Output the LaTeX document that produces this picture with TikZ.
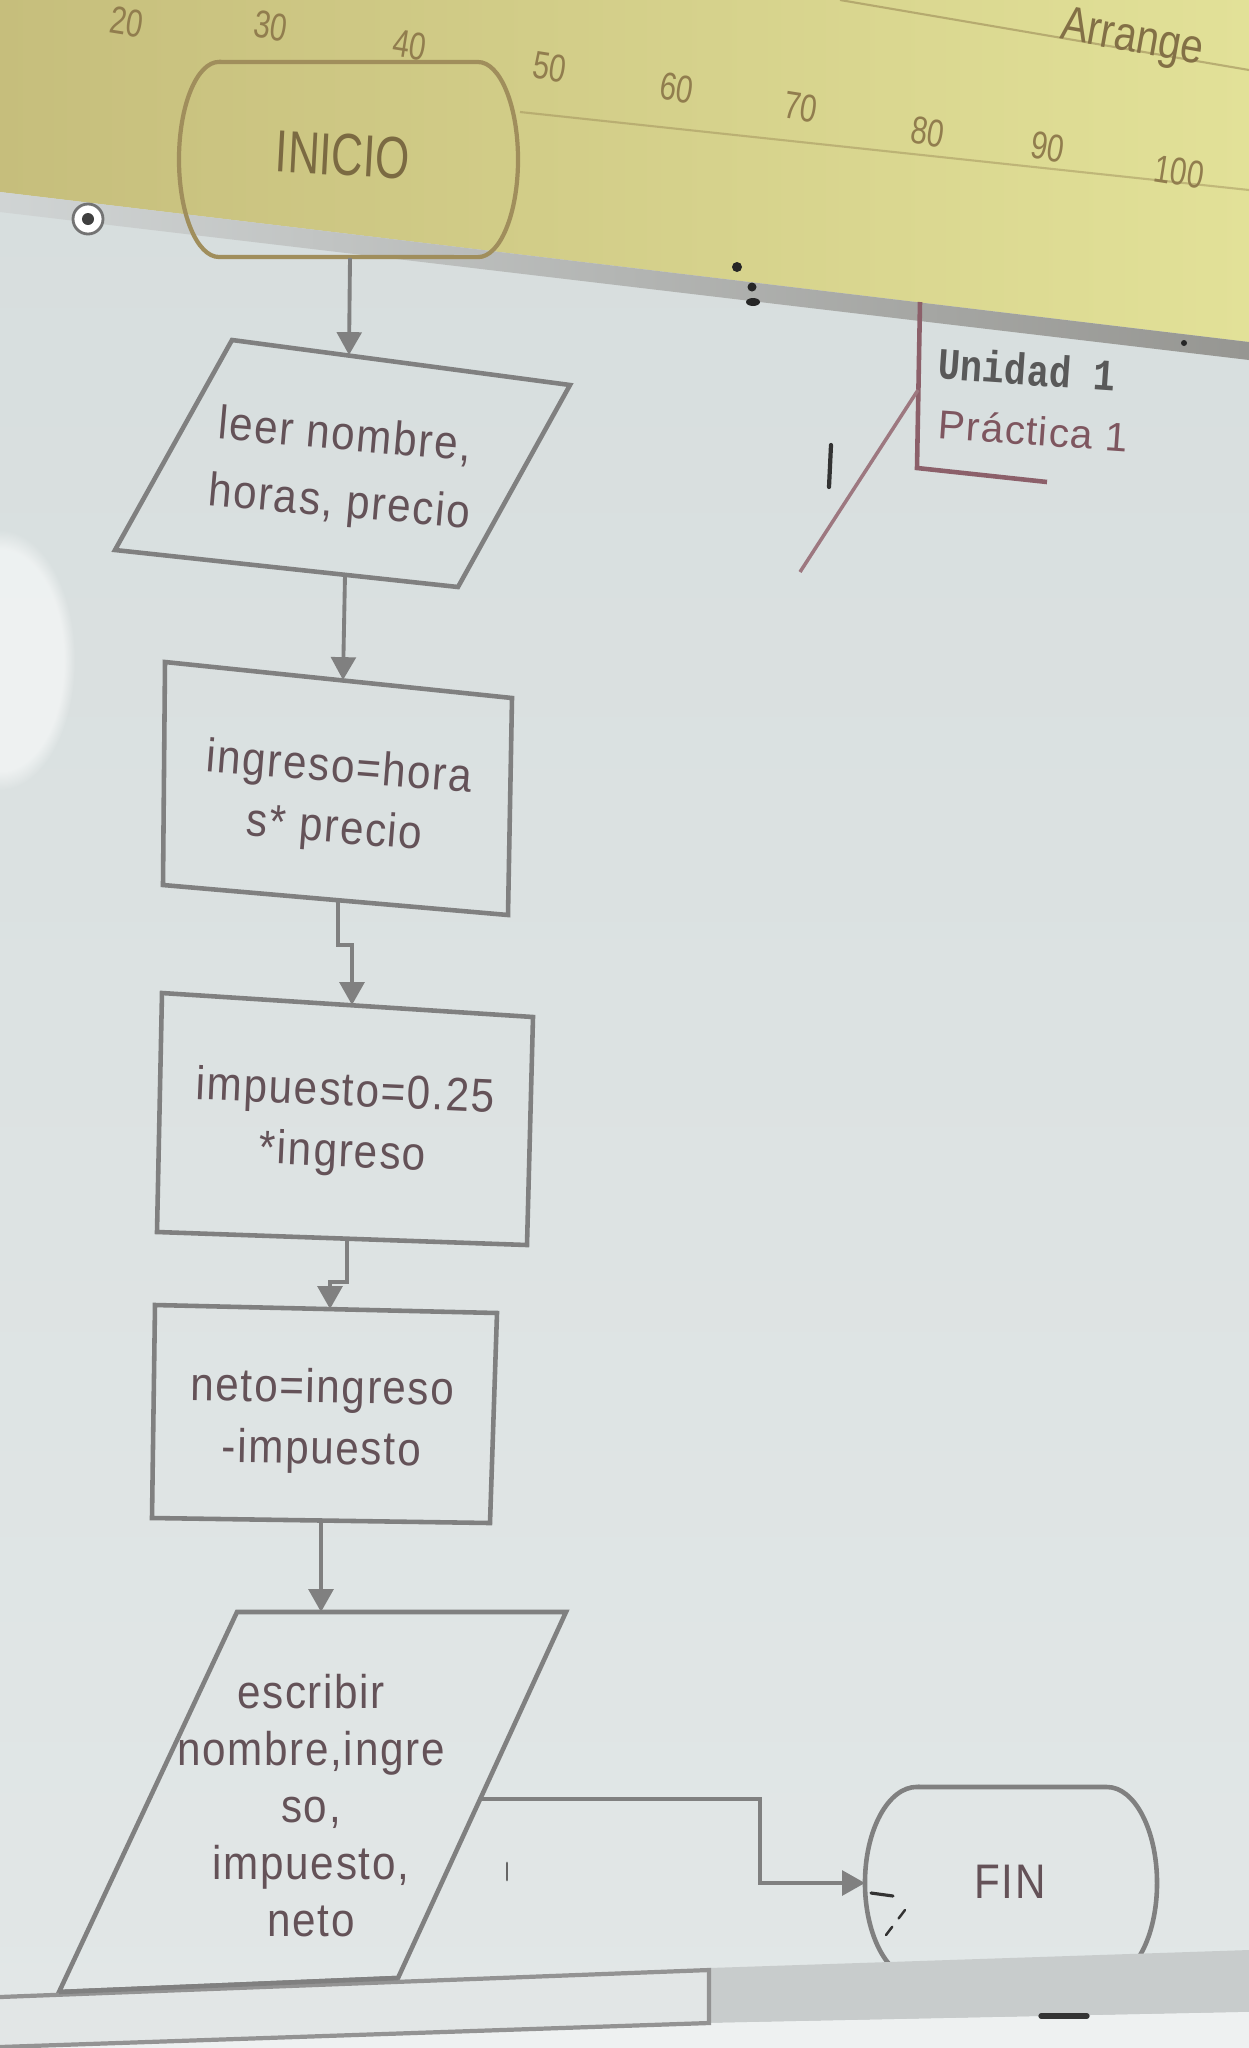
\documentclass[tikz,border=0pt]{standalone}
\usepackage{fontspec}
\setmainfont{Liberation Sans}
\newfontfamily\flowfont[LetterSpace=4]{Liberation Sans}
\newfontfamily\notefont[LetterSpace=3]{Liberation Sans}
\newfontfamily\unifont{Liberation Mono}
\usetikzlibrary{arrows.meta,fadings}
\definecolor{bgtop}{RGB}{214,221,221}
\definecolor{bgbot}{RGB}{226,231,231}
\definecolor{yelA}{RGB}{198,190,124}
\definecolor{yelB}{RGB}{226,225,152}
\definecolor{shapeline}{RGB}{128,128,128}
\definecolor{txt}{RGB}{100,82,88}
\definecolor{rulerbrown}{RGB}{145,125,78}
\definecolor{inicioline}{RGB}{160,142,92}
\definecolor{notemaroon}{RGB}{140,96,106}
\definecolor{bezelL}{RGB}{208,212,212}
\definecolor{bezelR}{RGB}{150,150,146}
\definecolor{frameband}{RGB}{200,204,204}
\definecolor{framelight}{RGB}{226,230,230}
\newcommand\ftxt[1]{\scalebox{1}[1.12]{\begin{tabular}{@{}c@{}}#1\end{tabular}}}
\newcommand\stretched[2]{\scalebox{1}[#1]{#2}}
\tikzset{
  flowshape/.style={draw=shapeline, line width=1.3pt, line join=miter},
  flowtext/.style={inner sep=0pt, text=txt, font=\flowfont\fontsize{12}{15.5}\selectfont},
  conn/.style={draw=shapeline, line width=1.1pt},
  arr/.style={conn, -{Triangle[width=7pt,length=6.5pt]}},
  rulernum/.style={text=rulerbrown, font=\fontsize{8.5}{10}\selectfont, rotate=-9, inner sep=0pt},
  speck/.style={draw=black!80, line width=1.2pt, line cap=round},
}
\begin{document}
\begin{tikzpicture}[x=0.01cm, y=-0.01cm]
\useasboundingbox (0,0) rectangle (1249,2048);
\clip (0,0) rectangle (1249,2048);

% screen background
\shade[top color=bgtop, bottom color=bgbot] (0,0) rectangle (1249,2048);
\fill[white, path fading=circle with fuzzy edge 15 percent, opacity=0.55] (0,660) ellipse [x radius=0.75cm, y radius=1.3cm];

% yellow ruler area
\shade[left color=yelA, right color=yelB] (0,0) -- (1249,0) -- (1249,342) -- (0,192) -- cycle;
\shade[left color=bezelL, right color=bezelR] (0,192) -- (1249,342) -- (1249,360) -- (0,212) -- cycle;
\draw[rulerbrown, line width=0.6pt, opacity=0.5] (840,0) -- (1249,70);
\draw[rulerbrown, line width=0.6pt, opacity=0.4] (520,112) -- (1249,190);

\node[rulernum] (r20) at (127,22) {\stretched{1.3}{20}};
\node[rulernum] (r30) at (271,26) {\stretched{1.3}{30}};
\node[rulernum] (r40) at (410,45) {\stretched{1.3}{40}};
\node[rulernum] (r50) at (550,67) {\stretched{1.3}{50}};
\node[rulernum] (r60) at (677,88) {\stretched{1.3}{60}};
\node[rulernum] (r70) at (801,107) {\stretched{1.3}{70}};
\node[rulernum] (r80) at (928,132) {\stretched{1.3}{80}};
\node[rulernum] (r90) at (1048,147) {\stretched{1.3}{90}};
\node[rulernum] (r100) at (1179,172) {\stretched{1.3}{100}};
\node[text=rulerbrown!90!black, font=\fontsize{11.5}{12}\selectfont, rotate=-10, inner sep=0pt] (arrange) at (1132,40) {\stretched{1.2}{Arrange}};

% INICIO terminal
\draw[inicioline, line width=1.2pt] (219,62) -- (478,62)
  arc[start angle=90, end angle=-90, x radius=0.4cm, y radius=0.975cm]
  -- (219,257)
  arc[start angle=270, end angle=90, x radius=0.4cm, y radius=0.975cm] -- cycle;
\node[inner sep=0pt, text=rulerbrown!85!black, font=\fontsize{12.5}{13}\selectfont, rotate=-3] (inicio) at (343,155) {\stretched{1.35}{INICIO}};
\coordinate (inicio-s) at (350,258);

% leer (input)
\draw[flowshape] (232,340) -- (570,385) -- (458,587) -- (115,550) -- cycle;
\node[flowtext, font=\flowfont\fontsize{12}{17}\selectfont, rotate=-5] (leer) at (342,470) {\ftxt{leer nombre,\\horas, precio}};
\coordinate (leer-n) at (349,355);
\coordinate (leer-s) at (345,575);

% ingreso
\draw[flowshape] (165,662) -- (512,698) -- (508,915) -- (163,885) -- cycle;
\node[flowtext, rotate=-4.5] (ingreso) at (337,800) {\ftxt{ingreso=hora\\s* precio}};
\coordinate (ing-n) at (343,680);
\coordinate (ing-s) at (338,900);

% impuesto
\draw[flowshape] (162,993) -- (533,1017) -- (527,1245) -- (157,1232) -- cycle;
\node[flowtext, rotate=-2.5] (impuesto) at (344,1124) {\ftxt{impuesto=0.25\\{}*ingreso}};
\coordinate (imp-n) at (352,1005);
\coordinate (imp-s) at (347,1239);

% neto
\draw[flowshape] (155,1305) -- (497,1313) -- (490,1523) -- (152,1518) -- cycle;
\node[flowtext, rotate=-1] (neto) at (322,1421) {\ftxt{neto=ingreso\\-impuesto}};
\coordinate (neto-n) at (330,1309);
\coordinate (neto-s) at (321,1520);

% escribir (output)
\draw[flowshape] (237,1612) -- (566,1612) -- (398,1978) -- (59,1992) -- cycle;
\node[flowtext, font=\flowfont\fontsize{12}{14.5}\selectfont] (escribir) at (311,1811) {\ftxt{escribir\\nombre,ingre\\so,\\impuesto,\\neto}};
\coordinate (esc-n) at (321,1612);
\coordinate (esc-e) at (480,1799);
\coordinate (bend) at (760,1799);

% FIN terminal
\draw[flowshape] (917,1787) -- (1107,1787)
  arc[start angle=90, end angle=-90, x radius=0.5cm, y radius=0.96cm]
  -- (917,1979)
  arc[start angle=270, end angle=90, x radius=0.52cm, y radius=0.96cm] -- cycle;
\node[flowtext] (fin) at (1010,1882) {\stretched{1.15}{FIN}};
\coordinate (fin-w) at (865,1883);

% connectors
\draw[arr] (inicio-s) -- (leer-n);
\draw[arr] (leer-s) -- (ing-n);
\draw[arr] (ing-s) -- ++(0,45) -| (imp-n);
\draw[arr] (imp-s) -- ++(0,43) -| (neto-n);
\draw[arr] (neto-s) -- (esc-n);
\draw[arr] (esc-e) -- (bend) |- (fin-w);

% note "Unidad 1 / Practica 1"
\draw[notemaroon, line width=1.3pt] (920,302) -- (917,468) -- (1047,482);
\draw[notemaroon!85, line width=1pt] (918,390) -- (800,572);
\node[anchor=west, inner sep=0pt, text=black!65, font=\unifont\bfseries\fontsize{10.5}{12}\selectfont, rotate=-4] (unidad) at (938,363) {\stretched{1.2}{Unidad 1}};
\node[anchor=west, inner sep=0pt, text=notemaroon!90!black, font=\notefont\fontsize{11.5}{13}\selectfont, rotate=-4] (practica) at (938,424) {Práctica 1};

% bottom window frame
\fill[framelight] (0,1997) -- (709,1970) -- (709,2023) -- (0,2047) -- cycle;
\fill[frameband] (709,1968) -- (1249,1950) -- (1249,2012) -- (709,2023) -- cycle;
\fill[bgbot!60!white] (709,2023) -- (1249,2012) -- (1249,2048) -- (0,2048) -- (0,2047) -- cycle;
\draw[shapeline!85, line width=1.2pt] (0,1997) -- (709,1970) -- (709,2023) -- (0,2047);
\draw[flowshape] (59,1992) -- (398,1978);

% specks on the screen
\draw[fill=white, draw=black!55, line width=0.8pt] (88,219) circle[radius=0.15cm];
\fill[black!75] (88,219) circle[radius=0.06cm];
\fill[black!85] (737,267) circle[radius=0.05cm];
\fill[black!85] (752,287) circle[radius=0.045cm];
\fill[black!85] (753,302) ellipse[x radius=0.07cm, y radius=0.04cm];
\fill[black!85] (1184,343) circle[radius=0.03cm];
\draw[speck] (831,445) -- (829,487);
\draw[speck, black!60, line width=0.8pt] (507,1863) -- (507,1880);
\draw[speck, line width=0.9pt] (871,1893) -- (893,1896);
\draw[speck, line width=0.7pt, dashed] (905,1910) -- (886,1935);
\draw[speck, line width=1.5pt] (1041,2016) -- (1087,2016);
\end{tikzpicture}
\end{document}
